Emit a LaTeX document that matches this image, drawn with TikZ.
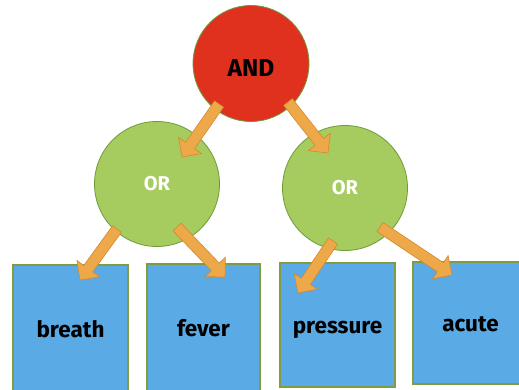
\documentclass[tikz,border=0pt]{standalone}
\usepackage{fontspec}
\setmainfont{Fira Sans}
\usepackage{tikz}
\usetikzlibrary{calc,positioning}
\definecolor{andred}{HTML}{E0301E}
\definecolor{orgreen}{HTML}{A6CB5E}
\definecolor{gateedge}{HTML}{6E9A3A}
\definecolor{leafblue}{HTML}{5AAAE6}
\definecolor{leafedge}{HTML}{7F9C45}
\definecolor{arrowfill}{HTML}{EDA84A}
\definecolor{arrowline}{HTML}{D4892E}

\begin{document}
\begin{tikzpicture}[
    x=1pt, y=1pt,
    font=\bfseries,
    andgate/.style={
		circle,
		fill=andred,
		draw=gateedge,
		line width=0.8pt,
		inner sep=0pt,
		minimum size=116pt,
		text height=26pt,
		font=\fontsize{24.5}{26}\selectfont\bfseries
	},
	orgate/.style={
		circle,
		fill=orgreen,
		draw=gateedge,
		line width=0.8pt,
		inner sep=0pt,
		minimum size=125pt,
		text=white,
		font=\fontsize{20}{22}\selectfont\bfseries
	},
	symptom/.style={
		rectangle,
		fill=leafblue,
		draw=leafedge,
		line width=1.2pt,
		inner sep=0pt,
		minimum width=115pt,
		text centered,
		text height=17pt,
		text depth=0pt,
		font=\fontsize{22.5}{24}\selectfont\bfseries
	},
	blockto/.style={
		draw=arrowline,
		fill=arrowfill,
		line width=0.6pt,
		line join=miter,
		to path={let \p1=(\tikztostart), \p2=(\tikztotarget),
		  \n1={atan2(\y2-\y1,\x2-\x1)}, \n2={veclen(\x2-\x1,\y2-\y1)-14} in
		  ($(\p1)+(\n1+90:5.5)$) -- ($(\p1)+(\n1:\n2)+(\n1+90:5.5)$)
		  -- ($(\p1)+(\n1:\n2)+(\n1+90:14)$) -- (\p2)
		  -- ($(\p1)+(\n1:\n2)+(\n1-90:14)$) -- ($(\p1)+(\n1:\n2)+(\n1-90:5.5)$)
		  -- ($(\p1)+(\n1-90:5.5)$) -- cycle}
	}
  ]
 \useasboundingbox (0,0) rectangle (519,389);

 % // symptoms
 \node [symptom, minimum height=127pt] (breath) at (70.5,60.5) {breath};
 \node [symptom, minimum width=113pt, minimum height=128pt] (fever) at (203.5,61) {fever};
 \node [symptom, minimum height=124pt] (pressure) at (337.5,64) {pressure};
 \node [symptom, minimum height=122pt] (acute) at (470.5,66) {acute};

 % // gates
 \node [andgate] (and) at (251,325.5) {AND};
 \node [orgate] (orleft) at (157,205) {OR};
 \node [orgate] (orright) at (345,201) {OR};

 \draw [blockto] ($(and)+(-32,-40.5)$) to ($(orleft)+(25,27)$);
 \draw [blockto] ($(and)+(37,-38.5)$) to ($(orright)+(-17,35)$);
 \draw [blockto] ($(orleft)+(-40,-45)$) to ($(breath)+(9.5,48.5)$);
 \draw [blockto] ($(orleft)+(20,-43)$) to ($(fever)+(21.5,51)$);
 \draw [blockto] ($(orright)+(-12,-53)$) to ($(pressure)+(-39.5,32)$);
 \draw [blockto] ($(orright)+(35,-39)$) to ($(acute)+(-18.5,48)$);

\end{tikzpicture}
\end{document}
